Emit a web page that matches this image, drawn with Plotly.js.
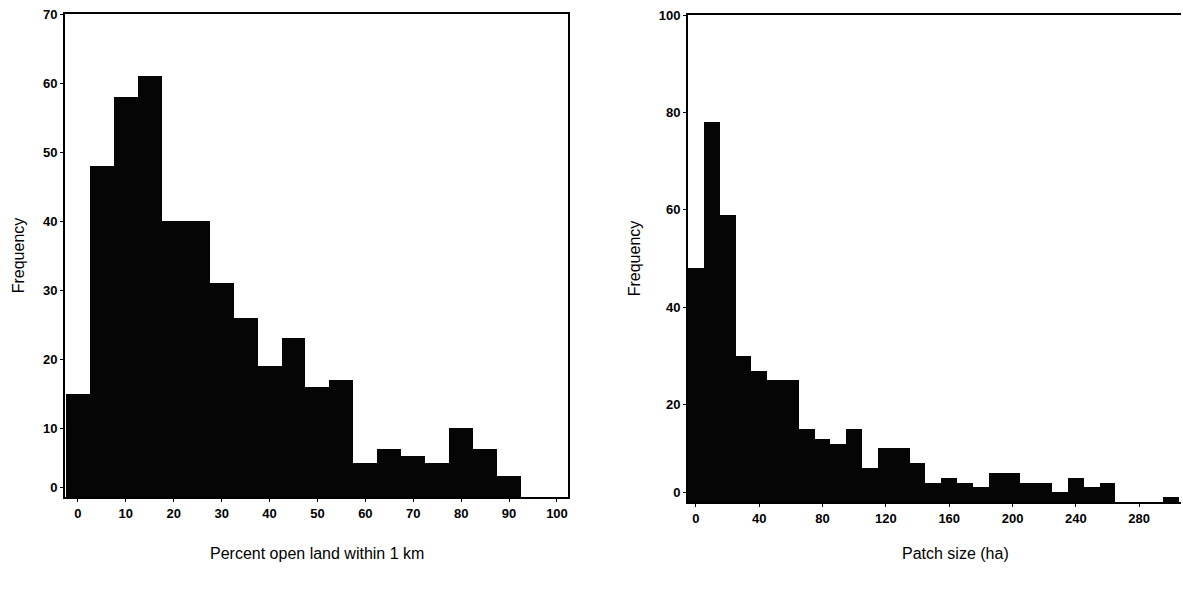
<!DOCTYPE html>
<html>
<head>
<meta charset="utf-8">
<script src="https://cdn.plot.ly/plotly-3.0.1.min.js"></script>
<style>html,body{margin:0;padding:0;background:#fff;}#chart{width:1183px;height:589px;}</style>
</head>
<body>
<div id="chart"></div>
<script>
// Left histogram: percent open land within 1 km (bins of width 5, centred on multiples of 5)
const openLandBins = [0,5,10,15,20,25,30,35,40,45,50,55,60,65,70,75,80,85,90,95,100];
const openLandFreq = [15,48,58,61,40,40,31,26,19,23,16,17,5,7,6,5,10,7,3,0,0];
const openLandTicks = [0,10,20,30,40,50,60,70,80,90,100];
const openLandYTicks = ['0','10','20','30','40','50','60','70'];

// Right histogram: patch size (ha) (bins of width 10, centred on multiples of 10)
const patchBins = [0,10,20,30,40,50,60,70,80,90,100,110,120,130,140,150,160,170,180,190,200,210,220,230,240,250,260,270,280,290,300];
const patchFreq = [48,78,59,30,27,25,25,15,13,12,15,7,11,11,8,4,5,4,3,6,6,4,4,2,5,3,4,0,0,0,1];
const patchTicks = [0,40,80,120,160,200,240,280];
const patchYTicks = ['0','20','40','60','80','100'];

const W = 1183, H = 589;
const px = v => v / W, py = v => 1 - v / H;

const tickFont = {family: 'Arial, "Liberation Sans", sans-serif', size: 13, color: '#000', weight: 'bold'};
const titleFont = {family: 'Arial, "Liberation Sans", sans-serif', size: 16, color: '#000'};

const traces = [
  {type: 'bar', x: openLandBins, y: openLandFreq, width: 5, xaxis: 'x', yaxis: 'y',
   marker: {color: '#050505', line: {width: 0}}, hoverinfo: 'x+y'},
  {type: 'bar', x: patchBins, y: patchFreq, width: 10, xaxis: 'x2', yaxis: 'y2',
   marker: {color: '#050505', line: {width: 0}}, hoverinfo: 'x+y'}
];

const yTickVals1 = [1.4,10,20,30,40,50,60,70];
const yTickVals2 = [2,20,40,60,80,100];

const layout = {
  width: W, height: H,
  margin: {l: 0, r: 0, t: 0, b: 0},
  paper_bgcolor: '#fff', plot_bgcolor: '#fff',
  showlegend: false, bargap: 0,
  xaxis: {domain: [px(65), px(568)], range: [-2.7, 102.3], tickvals: openLandTicks,
    showline: true, linecolor: '#000', linewidth: 2, mirror: true, ticks: 'outside', ticklen: 3,
    tickcolor: '#000', showgrid: false, zeroline: false, tickfont: tickFont, anchor: 'y'},
  yaxis: {domain: [py(497), py(14)], range: [0, 70], tickvals: yTickVals1, ticktext: openLandYTicks,
    showline: true, linecolor: '#000', linewidth: 2, mirror: true, ticks: 'outside', ticklen: 3,
    tickcolor: '#000', showgrid: false, zeroline: false, tickfont: tickFont, anchor: 'x',
    title: {text: 'Frequency', font: titleFont, standoff: 14}},
  xaxis2: {domain: [px(688), px(1181)], range: [-5, 306.4], tickvals: patchTicks,
    showline: true, linecolor: '#000', linewidth: 2, mirror: true, ticks: 'outside', ticklen: 3,
    tickcolor: '#000', showgrid: false, zeroline: false, tickfont: tickFont, anchor: 'y2'},
  yaxis2: {domain: [py(502), py(15)], range: [0, 100], tickvals: yTickVals2, ticktext: patchYTicks,
    showline: true, linecolor: '#000', linewidth: 2, mirror: false, ticks: 'outside', ticklen: 3,
    tickcolor: '#000', showgrid: false, zeroline: false, tickfont: tickFont, anchor: 'x2',
    title: {text: 'Frequency', font: titleFont, standoff: 14}},
  annotations: [
    {text: 'Percent open land within 1 km', xref: 'paper', yref: 'paper', x: px(317), y: py(553),
     showarrow: false, font: titleFont, xanchor: 'center', yanchor: 'middle'},
    {text: 'Patch size (ha)', xref: 'paper', yref: 'paper', x: px(955), y: py(553),
     showarrow: false, font: titleFont, xanchor: 'center', yanchor: 'middle'}
  ]
};

Plotly.newPlot('chart', traces, layout, {displayModeBar: false, staticPlot: true});
</script>
</body>
</html>
